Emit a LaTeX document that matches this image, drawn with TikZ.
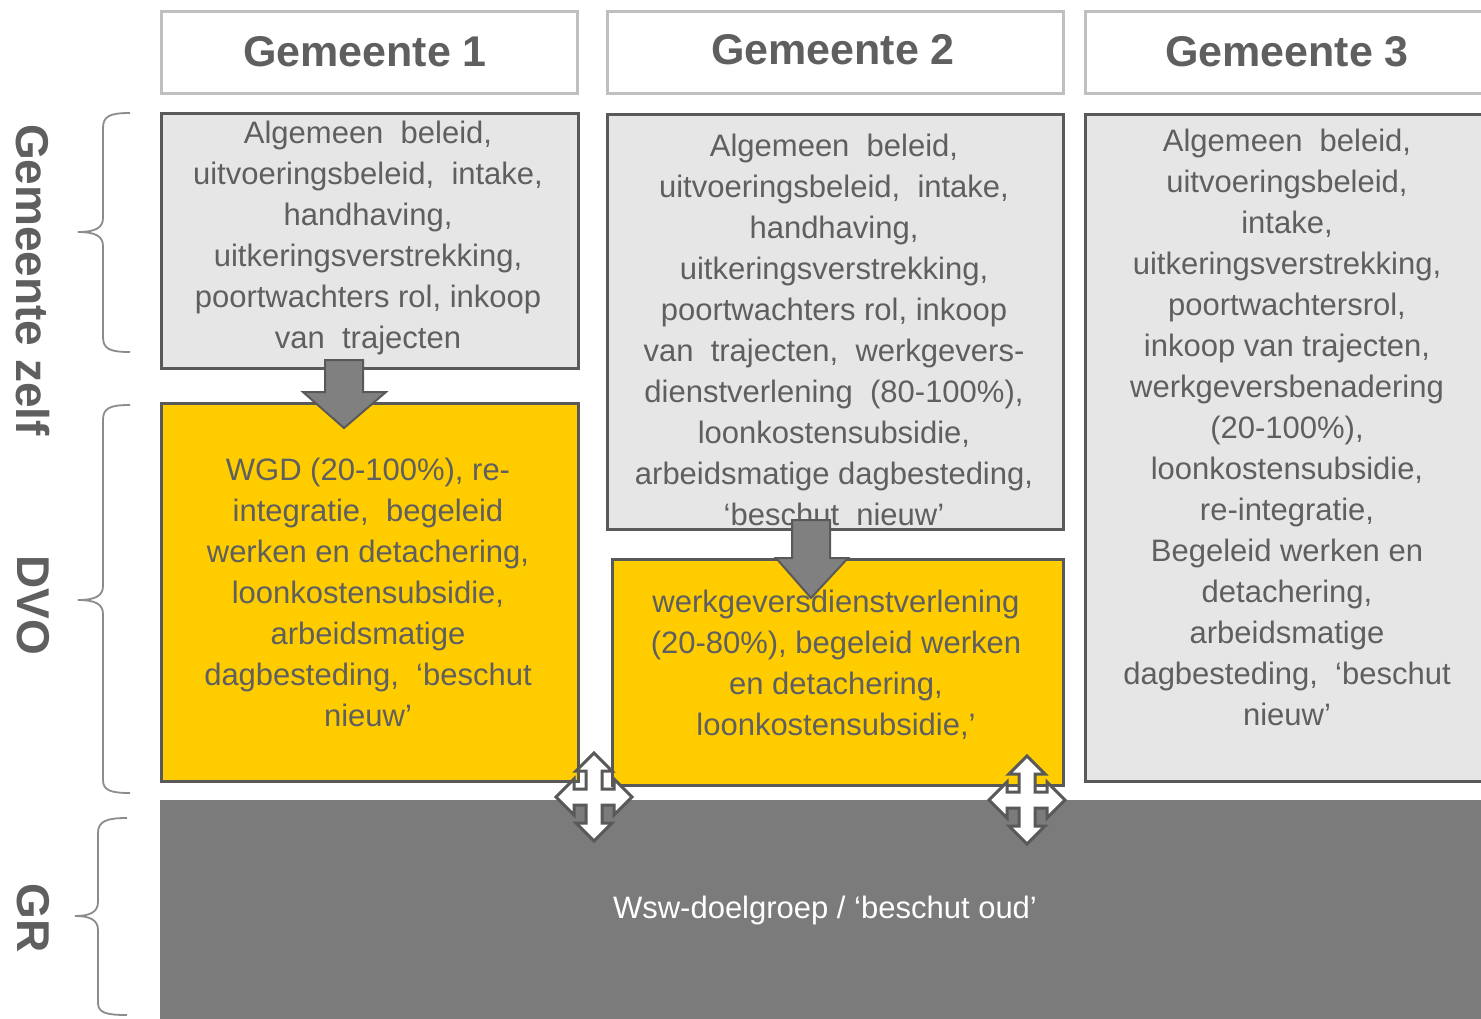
\documentclass[tikz,border=0pt]{standalone}
\usepackage{fontspec}
\setmainfont{Liberation Sans}
\definecolor{txtgray}{HTML}{5F5F5F}
\definecolor{hdrborder}{HTML}{BFBFBF}
\definecolor{boxborder}{HTML}{595959}
\definecolor{lightfill}{HTML}{E6E6E6}
\definecolor{yellowfill}{HTML}{FFCC00}
\definecolor{darkfill}{HTML}{7B7B7B}
\definecolor{arrowfill}{HTML}{808080}
\definecolor{bracecol}{HTML}{8C8C8C}
\begin{document}
\begin{tikzpicture}[x=1pt,y=-1pt,
  hdr/.style={draw=hdrborder, line width=3pt, fill=white, anchor=north west, inner sep=0pt},
  hdrtext/.style={text=txtgray, font=\fontsize{43}{50}\selectfont\bfseries},
  greybox/.style={draw=boxborder, line width=3pt, fill=lightfill, anchor=north west, inner sep=0pt},
  yellowbox/.style={draw=boxborder, line width=3pt, fill=yellowfill, anchor=north west, inner sep=0pt},
  darkbox/.style={draw=none, fill=darkfill, anchor=north west, inner sep=0pt},
  body/.style={text=txtgray, align=center, font=\fontsize{31}{41}\selectfont, inner sep=0pt},
  sidelabel/.style={text=txtgray, rotate=-90, font=\fontsize{46}{50}\selectfont\bfseries, inner sep=0pt},
  bracestyle/.style={draw=bracecol, line width=1.8pt},
  downarrow/.style={fill=arrowfill, draw=boxborder, line width=2pt, line join=miter},
  movearrow/.style={fill=white, draw=boxborder, line width=3pt, line join=miter}
]
\useasboundingbox (0,0) rectangle (1481,1018);
\clip (0,0) rectangle (1481,1018);
\fill[white] (0,0) rectangle (1481,1018);

% header boxes
\node[hdr, minimum width=416pt, minimum height=82pt] (h1) at (160,10) {};
\node[hdr, minimum width=456pt, minimum height=82pt] (h2) at (606,10) {};
\node[hdr, minimum width=420pt, minimum height=82pt] (h3) at (1084,10) {};
\node[hdrtext] (h1t) at (365,52) {Gemeente 1};
\node[hdrtext] (h2t) at (833,50) {Gemeente 2};
\node[hdrtext] (h3t) at (1287,52) {Gemeente 3};

% bottom GR box
\node[darkbox, minimum width=1340pt, minimum height=240pt] (gr) at (160,800) {};
\node[text=white, font=\fontsize{31}{41}\selectfont, inner sep=0pt] (grt) at (825,910) {Wsw-doelgroep / ‘beschut oud’};

% column boxes
\node[greybox, minimum width=417pt, minimum height=255pt] (g1) at (160,112) {};
\node[yellowbox, minimum width=417pt, minimum height=378pt] (y1) at (160,402) {};
\node[greybox, minimum width=456pt, minimum height=415pt] (g2) at (606,113) {};
\node[yellowbox, minimum width=451pt, minimum height=226pt] (y2) at (611,558) {};
\node[greybox, minimum width=420pt, minimum height=667pt] (g3) at (1084,113) {};

% texts
\node[body] (g1t) at (368,238) {Algemeen\ \ beleid,\\uitvoeringsbeleid,\ \ intake,\\handhaving,\\uitkeringsverstrekking,\\poortwachters rol, inkoop\\van\ \ trajecten};
\node[body] (y1t) at (368,592) {WGD (20-100\%), re-\\integratie,\ \ begeleid\\werken en detachering,\\loonkostensubsidie,\\arbeidsmatige\\dagbesteding,\ \ ‘beschut\\nieuw’};
\node[body] (g2t) at (834,330) {Algemeen\ \ beleid,\\uitvoeringsbeleid,\ \ intake,\\handhaving,\\uitkeringsverstrekking,\\poortwachters rol, inkoop\\van\ \ trajecten,\ \ werkgevers-\\dienstverlening\ \ (80-100\%),\\loonkostensubsidie,\\arbeidsmatige dagbesteding,\\‘beschut\ \ nieuw’};
\node[body] (y2t) at (836,665) {werkgeversdienstverlening\\(20-80\%), begeleid werken\\en detachering,\\loonkostensubsidie,’};
\node[body] (g3t) at (1287,427) {Algemeen\ \ beleid,\\uitvoeringsbeleid,\\intake,\\uitkeringsverstrekking,\\poortwachtersrol,\\inkoop van trajecten,\\werkgeversbenadering\\(20-100\%),\\loonkostensubsidie,\\re-integratie,\\Begeleid werken en\\detachering,\\arbeidsmatige\\dagbesteding,\ \ ‘beschut\\nieuw’};

% down arrows
\draw[downarrow] (325,360) -- (363,360) -- (363,392) -- (386,392) -- (344,428) -- (303,392) -- (325,392) -- cycle;
\draw[downarrow] (792,520) -- (830,520) -- (830,558) -- (848,558) -- (811,598) -- (776,558) -- (792,558) -- cycle;

% four-way arrows
\foreach \cx/\cy/\nm in {594/797/mA, 1027/800/mB}{
  \coordinate (\nm) at (\cx,\cy);
  \draw[movearrow, shift={(\nm)}]
    (0,-44) -- (18,-26) -- (8,-26) -- (8,-8) -- (20,-8) -- (20,-18) -- (38,0) -- (20,18) -- (20,8) -- (8,8) -- (8,26) -- (18,26) -- (0,44) -- (-18,26) -- (-8,26) -- (-8,8) -- (-20,8) -- (-20,18) -- (-38,0) -- (-20,-18) -- (-20,-8) -- (-8,-8) -- (-8,-26) -- (-18,-26) -- cycle;
}

% side braces
\draw[bracestyle] (130,113) .. controls (110,113) and (103,116) .. (103,128) -- (103,218) .. controls (103,228) and (95,232) .. (78,232) .. controls (95,232) and (103,236) .. (103,246) -- (103,337) .. controls (103,349) and (110,352) .. (130,352);
\draw[bracestyle] (130,405) .. controls (110,405) and (103,408) .. (103,420) -- (103,586) .. controls (103,596) and (95,600) .. (78,600) .. controls (95,600) and (103,604) .. (103,614) -- (103,780) .. controls (103,790) and (110,793) .. (130,793);
\draw[bracestyle] (127,818) .. controls (107,818) and (98,821) .. (98,833) -- (98,902) .. controls (98,912) and (90,916) .. (75,916) .. controls (90,916) and (98,920) .. (98,930) -- (98,1003) .. controls (98,1013) and (107,1015) .. (127,1015);

% side labels
\node[sidelabel] (sl1) at (33,280) {Gemeente zelf};
\node[sidelabel] (sl2) at (33,605) {DVO};
\node[sidelabel] (sl3) at (33,918) {GR};
\end{tikzpicture}
\end{document}
